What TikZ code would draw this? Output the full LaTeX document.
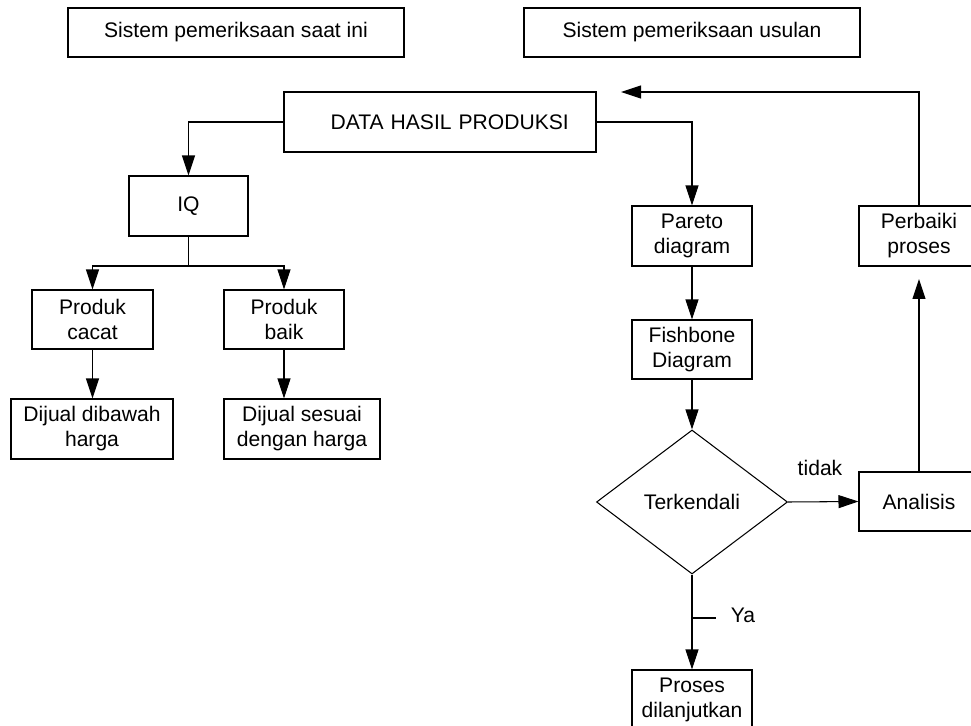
\documentclass[tikz,border=0pt]{standalone}
\usepackage{fontspec}
\setmainfont{Liberation Sans}
\usetikzlibrary{arrows.meta,shapes.geometric}
\begin{document}
\begin{tikzpicture}[x=0.02cm,y=-0.02cm,
  every node/.style={font=\fontsize{12}{14.2}\selectfont},
  box/.style={draw=black,line width=0.6pt,rectangle,inner sep=0pt,align=center},
  conn/.style={draw=black,line width=0.6pt},
  arr/.style={conn,-{Triangle[length=0.4cm,width=0.26cm]}}]
\useasboundingbox (0,0) rectangle (971,726);
\clip (0,0) rectangle (971,726);
% boxes
\node[box,minimum width=336*0.02cm,minimum height=49*0.02cm] (top1) at (236,32.5) {Sistem pemeriksaan saat ini};
\node[box,minimum width=336*0.02cm,minimum height=49*0.02cm] (top2) at (692,32.5) {Sistem pemeriksaan usulan};
\node[box,minimum width=312*0.02cm,minimum height=60*0.02cm,text width=312*0.02cm,align=center] (data) at (440,122) {\hspace*{11pt}DATA HASIL PRODUKSI};
\node[box,minimum width=119*0.02cm,minimum height=60*0.02cm] (iq) at (188.5,206) {IQ};
\node[box,minimum width=121*0.02cm,minimum height=59*0.02cm] (cacat) at (92.5,319.5) {Produk\\cacat};
\node[box,minimum width=120*0.02cm,minimum height=59*0.02cm] (baik) at (284,319.5) {Produk\\baik};
\node[box,minimum width=162*0.02cm,minimum height=60*0.02cm] (dibawah) at (92,429) {Dijual dibawah\\harga};
\node[box,minimum width=156*0.02cm,minimum height=60*0.02cm] (sesuai) at (302,429) {Dijual sesuai\\dengan harga};
\node[box,minimum width=120*0.02cm,minimum height=60*0.02cm] (pareto) at (692,236) {Pareto\\diagram};
\node[box,minimum width=120*0.02cm,minimum height=59*0.02cm] (fish) at (692,349.5) {Fishbone\\Diagram};
\node[draw=black,line width=0.6pt,diamond,inner sep=0pt,minimum width=191*0.02cm,minimum height=144*0.02cm] (dec) at (692,502) {Terkendali};
\node[box,minimum width=120*0.02cm,minimum height=59*0.02cm] (anal) at (919,501.5) {Analisis};
\node[box,minimum width=120*0.02cm,minimum height=60*0.02cm] (perb) at (919,236) {Perbaiki\\proses};
\node[box,minimum width=120*0.02cm,minimum height=60*0.02cm] (proses) at (692,700) {Proses\\dilanjutkan};
% coordinates
\coordinate (split) at (188.5,266);
\coordinate (fbend) at (919,279);
\coordinate (ftip) at (621,92);
\coordinate (tick) at (716,618);
% connectors
\draw[arr] (data.west) -| (iq.north);
\draw[arr] (data.east) -| (pareto.north);
\draw[conn] (iq.south) -- (split);
\draw[arr] (split) -| (cacat.north);
\draw[arr] (split) -| (baik.north);
\draw[arr] (cacat.south) -- (cacat.south |- dibawah.north);
\draw[arr] (baik.south) -- (baik.south |- sesuai.north);
\draw[arr] (pareto) -- (fish);
\draw[arr] (fish) -- (dec.north);
\draw[arr] (dec.east) -- (anal.west);
\draw[arr] (dec.south) -- (proses.north);
\draw[conn] (dec.south |- tick) -- (tick);
\draw[arr] (anal.north) -- (fbend);
\draw[arr] (perb.north) |- (ftip);
% labels
\node (tidak) at (820,468) {tidak};
\node (ya) at (743,615) {Ya};
\end{tikzpicture}
\end{document}
